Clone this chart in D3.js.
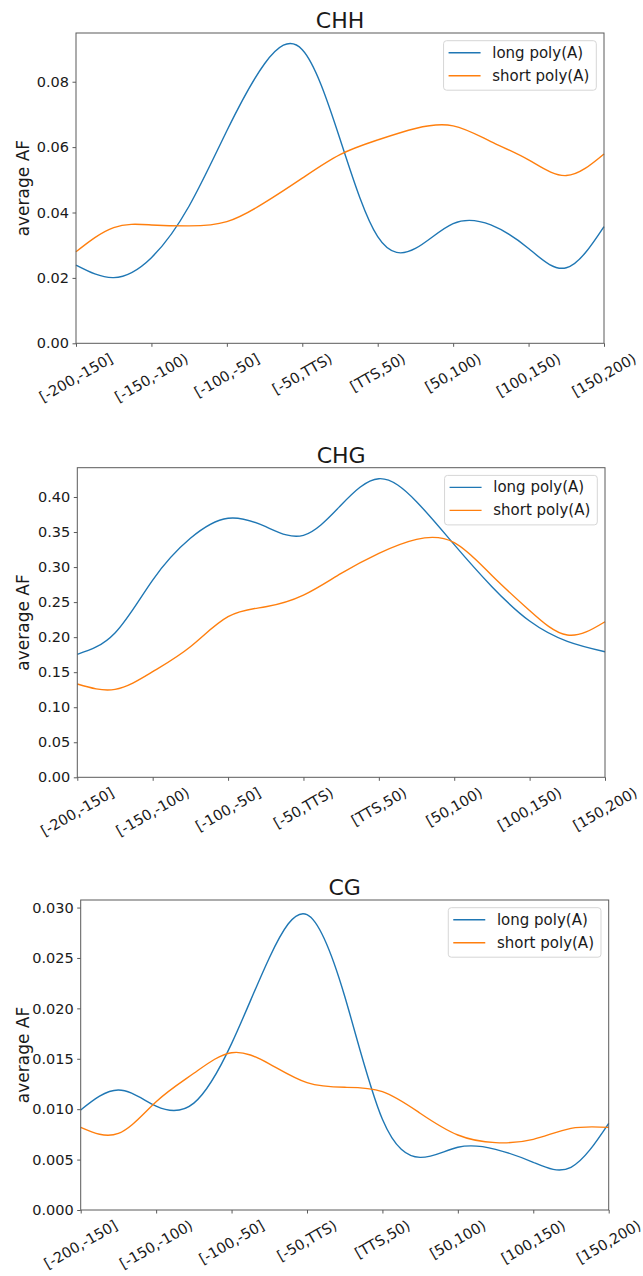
<!DOCTYPE html>
<html>
<head>
<meta charset="utf-8">
<script src="https://cdn.jsdelivr.net/npm/d3@7"></script>
<style>
  body { margin: 0; background: #fff; }
  svg { display: block; font-family: "DejaVu Sans", sans-serif; }
</style>
</head>
<body>
<div id="chart"></div>
<script>
// categories on the x axis
var categories = ["[-200,-150]", "[-150,-100)", "[-100,-50]", "[-50,TTS)",
                  "[TTS,50)", "[50,100)", "[100,150)", "[150,200)"];

var samplePos = [0, 0.5, 1, 1.5, 2, 2.5, 3, 3.5, 4, 4.5, 5, 5.5, 6, 6.5, 7];

// CHH
var chhLong  = [0.0239, 0.0201, 0.0262, 0.0420, 0.0650, 0.0855, 0.0898, 0.0625, 0.0326, 0.0290, 0.0366, 0.0362, 0.0290, 0.0231, 0.0357];
var chhShort = [0.0280, 0.0354, 0.0362, 0.0359, 0.0372, 0.0430, 0.0505, 0.0577, 0.0622, 0.0657, 0.0665, 0.0617, 0.0561, 0.0513, 0.0579];
var chhTicks = [0, 0.02, 0.04, 0.06, 0.08];

// CHG
var chgLong  = [0.1755, 0.2060, 0.2815, 0.3410, 0.3696, 0.3576, 0.3453, 0.3886, 0.4261, 0.3933, 0.3320, 0.2720, 0.2230, 0.1940, 0.1792];
var chgShort = [0.1331, 0.1255, 0.1507, 0.1864, 0.2292, 0.2434, 0.2600, 0.2910, 0.3196, 0.3396, 0.3350, 0.2880, 0.2380, 0.2030, 0.2220];
var chgTicks = [0, 0.05, 0.10, 0.15, 0.20, 0.25, 0.30, 0.35, 0.40];

// CG
var cgLong  = [0.00992, 0.01190, 0.01030, 0.01060, 0.01650, 0.02500, 0.02930, 0.02120, 0.00900, 0.00522, 0.00622, 0.00602, 0.00473, 0.00424, 0.00860];
var cgShort = [0.00820, 0.00760, 0.01074, 0.01356, 0.01560, 0.01450, 0.01263, 0.01217, 0.01174, 0.00960, 0.00744, 0.00668, 0.00701, 0.00810, 0.00820];
var cgTicks = [0, 0.005, 0.010, 0.015, 0.020, 0.025, 0.030];

var seriesNames = ["long poly(A)", "short poly(A)"];
var colors = ["#1f77b4", "#ff7f0e"];

var panels = [
    { title: "CHH", long: chhLong, short: chhShort, ticks: chhTicks, fmt: ".2f", yMax: 0.0949,
      left: 76, right: 604, top: 33, bottom: 343.3 },
    { title: "CHG", long: chgLong, short: chgShort, ticks: chgTicks, fmt: ".2f", yMax: 0.4418,
      left: 77.3, right: 605, top: 467.7, bottom: 777.3 },
    { title: "CG", long: cgLong, short: cgShort, ticks: cgTicks, fmt: ".3f", yMax: 0.03075,
      left: 80.7, right: 608.7, top: 900, bottom: 1210 }
];

var W = 643, H = 1276;
var textColor = "#1a1a1a", spineColor = "#5a5a5a";
var tickFont = 14.5;

var svg = d3.select("#chart").append("svg")
    .attr("width", W)
    .attr("height", H);

panels.forEach(function (p) {
    var g = svg.append("g");

    var x = d3.scaleLinear().domain([0, categories.length - 1]).range([p.left, p.right]);
    var xCat = d3.scalePoint().domain(categories).range([p.left, p.right]);
    var y = d3.scaleLinear().domain([0, p.yMax]).range([p.bottom, p.top]);

    // y axis
    var yAxis = g.append("g")
        .attr("transform", "translate(" + p.left + ",0)")
        .call(d3.axisLeft(y).tickValues(p.ticks).tickFormat(d3.format(p.fmt))
              .tickSize(3.5).tickPadding(3.5));
    yAxis.select(".domain").remove();
    yAxis.selectAll("line").attr("stroke", spineColor);
    yAxis.selectAll("text")
        .attr("fill", textColor)
        .style("font-size", tickFont + "px")
        .style("font-family", "DejaVu Sans");

    // x axis ticks
    var xAxis = g.append("g")
        .attr("transform", "translate(0," + p.bottom + ")")
        .call(d3.axisBottom(xCat).tickSize(3.5).tickFormat(""));
    xAxis.select(".domain").remove();
    xAxis.selectAll("line").attr("stroke", spineColor);

    // rotated x tick labels, centred under each tick
    categories.forEach(function (c) {
        var t = g.append("text")
            .text(c)
            .attr("fill", textColor)
            .style("font-size", tickFont + "px")
            .attr("text-anchor", "middle")
            .attr("dominant-baseline", "central");
        var w = t.node().getComputedTextLength();
        var boxH = w * 0.5 + 0.89 * tickFont * 0.866;
        var cy = p.bottom + 8.4 + boxH / 2;
        t.attr("transform", "translate(" + xCat(c) + "," + cy + ") rotate(-30)");
    });

    // lines
    var line = d3.line()
        .x(function (d, i) { return x(samplePos[i]); })
        .y(function (d) { return y(d); })
        .curve(d3.curveNatural);

    [p.long, p.short].forEach(function (vals, k) {
        g.append("path")
            .datum(vals)
            .attr("fill", "none")
            .attr("stroke", colors[k])
            .attr("stroke-width", 1.4)
            .attr("d", line);
    });

    // frame
    g.append("rect")
        .attr("x", p.left)
        .attr("y", p.top)
        .attr("width", p.right - p.left)
        .attr("height", p.bottom - p.top)
        .attr("fill", "none")
        .attr("stroke", spineColor)
        .attr("stroke-width", 1);

    // title
    g.append("text")
        .text(p.title)
        .attr("x", (p.left + p.right) / 2)
        .attr("y", p.top - 4.7)
        .attr("text-anchor", "middle")
        .attr("fill", textColor)
        .style("font-size", "22px");

    // y label
    g.append("text")
        .text("average AF")
        .attr("transform", "translate(" + 29 + "," + (p.top + p.bottom) / 2 + ") rotate(-90)")
        .attr("text-anchor", "middle")
        .attr("fill", textColor)
        .style("font-size", "17px");

    // legend
    var leg = g.append("g");
    var box = leg.append("rect")
        .attr("rx", 3)
        .attr("fill", "#fff")
        .attr("fill-opacity", 0.8)
        .attr("stroke", "#d6d6d6");
    var maxW = 0;
    seriesNames.forEach(function (name, k) {
        var ly = 12 + k * 23;
        leg.append("line")
            .attr("x1", 5).attr("x2", 37)
            .attr("y1", ly).attr("y2", ly)
            .attr("stroke", colors[k])
            .attr("stroke-width", 1.4);
        var t = leg.append("text")
            .text(name)
            .attr("x", 48.7)
            .attr("y", ly)
            .attr("dominant-baseline", "central")
            .attr("fill", textColor)
            .style("font-size", "15px");
        maxW = Math.max(maxW, t.node().getComputedTextLength());
    });
    var bw = 48.7 + maxW + 7, bh = 49.5;
    box.attr("width", bw).attr("height", bh);
    leg.attr("transform", "translate(" + (p.right - 7.7 - bw) + "," + (p.top + 7.7) + ")");
});
</script>
</body>
</html>
